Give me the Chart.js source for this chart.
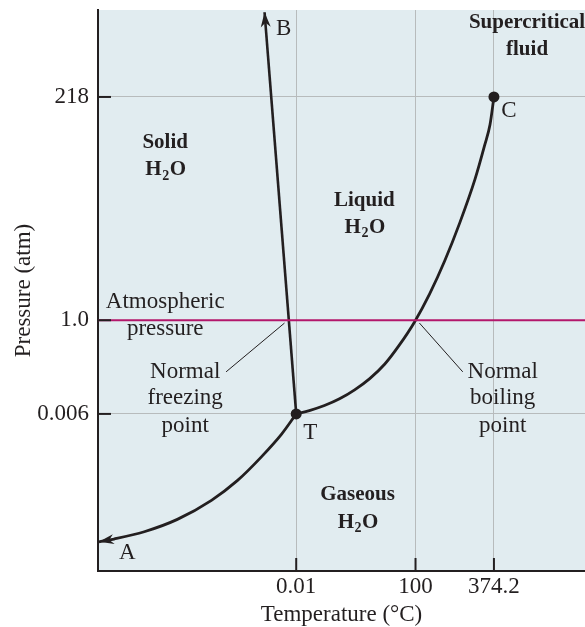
<!DOCTYPE html>
<html>
<head>
<meta charset="utf-8">
<script src="https://cdn.jsdelivr.net/npm/chart.js@4"></script>
<style>
  html, body { margin: 0; padding: 0; background: #fff; overflow: hidden; }
  canvas { display: block; }
</style>
</head>
<body>
<canvas id="phaseChart" width="585" height="627"></canvas>
<script>
// schematic axes (0..100 each way), ticks sit where the textbook diagram puts them
const tempLabels = ['0.01', '100', '374.2'];
const tempAt = [40.7, 65.2, 81.3];
const presLabels = ['0.006', '1.0', '218'];
const presAt = [28.0, 44.7, 84.5];
const atmPressure = 44.7;

const triplePoint = {x: 40.7, y: 28.0};
const criticalPoint = {x: 81.3, y: 84.5};

// phase boundaries
const fusionX = [40.7, 34.2];
const fusionY = [28.0, 99.6];
const vaporX = [40.7, 43.4, 46.5, 49.6, 52.7, 55.8, 58.9, 61.9, 65.0, 68.1, 71.2, 74.3, 77.4, 79.4, 80.5, 81.3];
const vaporY = [28.0, 28.6, 29.5, 30.7, 32.3, 34.3, 36.9, 40.3, 44.4, 49.4, 55.3, 62.1, 69.8, 75.9, 79.6, 84.5];
const sublimX = [0.2, 3.3, 9.5, 16.3, 23.3, 28.6, 33.5, 37.7, 40.7];
const sublimY = [5.2, 5.7, 7.0, 9.2, 12.6, 16.1, 20.3, 24.4, 28.0];

const ink = '#231f20';
const magenta = '#b3176b';
const serif = '"Liberation Serif", "DejaVu Serif", serif';

const toPts = (xs, ys) => xs.map((x, i) => ({x: x, y: ys[i]}));

function drawH2O(ctx, cx, cy, size, weight) {
  const big = weight + ' ' + size + 'px ' + serif;
  const small = weight + ' ' + Math.round(size * 0.66) + 'px ' + serif;
  ctx.font = big;
  const wH = ctx.measureText('H').width;
  const wO = ctx.measureText('O').width;
  ctx.font = small;
  const w2 = ctx.measureText('2').width;
  let x = cx - (wH + w2 + wO) / 2;
  ctx.textAlign = 'left';
  ctx.textBaseline = 'middle';
  ctx.font = big; ctx.fillText('H', x, cy); x += wH;
  ctx.font = small; ctx.fillText('2', x + 0.5, cy + size * 0.3); x += w2 + 1;
  ctx.font = big; ctx.fillText('O', x, cy);
}

function arrowHead(ctx, tip, from, len, half) {
  const a = Math.atan2(tip.y - from.y, tip.x - from.x);
  ctx.save();
  ctx.translate(tip.x, tip.y);
  ctx.rotate(a);
  ctx.beginPath();
  ctx.moveTo(0, 0);
  ctx.lineTo(-len, -half);
  ctx.lineTo(-len * 0.7, 0);
  ctx.lineTo(-len, half);
  ctx.closePath();
  ctx.fillStyle = ink;
  ctx.fill();
  ctx.restore();
}

const notes = [
  {t: 'Solid', u: 13.8, v: 76.3, bold: true},
  {t: 'H2O', u: 13.8, v: 71.5, bold: true},
  {t: 'Liquid', u: 54.7, v: 66.1, bold: true},
  {t: 'H2O', u: 54.7, v: 61.3, bold: true},
  {t: 'Gaseous', u: 53.3, v: 13.7, bold: true},
  {t: 'H2O', u: 53.3, v: 8.7, bold: true},
  {t: 'Supercritical', u: 88.1, v: 97.7, bold: true},
  {t: 'fluid', u: 88.1, v: 92.9, bold: true},
  {t: 'Atmospheric', u: 13.8, v: 47.9},
  {t: 'pressure', u: 13.8, v: 43.1},
  {t: 'Normal', u: 17.9, v: 35.5},
  {t: 'freezing', u: 17.9, v: 30.8},
  {t: 'point', u: 17.9, v: 25.8},
  {t: 'Normal', u: 83.1, v: 35.5},
  {t: 'boiling', u: 83.1, v: 30.8},
  {t: 'point', u: 83.1, v: 25.8},
  {t: 'A', u: 6.0, v: 3.2},
  {t: 'B', u: 38.1, v: 96.6},
  {t: 'C', u: 84.4, v: 82.0},
  {t: 'T', u: 43.6, v: 24.6}
];

const leaders = [
  [38.3, 44.2, 26.3, 35.5],
  [66.0, 44.2, 74.9, 35.5]
];

const noPad = (scale) => {
  scale.paddingTop = 0;
  scale.paddingBottom = 0;
  scale.paddingLeft = 0;
  scale.paddingRight = 0;
};

const phasePlugin = {
  id: 'phase',
  beforeDraw(chart) {
    const {ctx, chartArea: a} = chart;
    ctx.save();
    ctx.fillStyle = '#e1ecf0';
    ctx.fillRect(a.left, a.top, a.right - a.left, a.bottom - a.top);
    ctx.restore();
  },
  afterDatasetsDraw(chart) {
    const {ctx, chartArea: a, scales: {x, y}} = chart;
    ctx.save();
    // inward tick marks
    ctx.strokeStyle = ink;
    ctx.lineWidth = 2;
    presAt.forEach(v => {
      const py = y.getPixelForValue(v);
      ctx.beginPath(); ctx.moveTo(a.left, py); ctx.lineTo(a.left + 13, py); ctx.stroke();
    });
    tempAt.forEach(u => {
      const px = x.getPixelForValue(u);
      ctx.beginPath(); ctx.moveTo(px, a.bottom); ctx.lineTo(px, a.bottom - 13); ctx.stroke();
    });
    // arrows at A and B
    const fus = chart.getDatasetMeta(1).data;
    arrowHead(ctx, fus[1], fus[0], 15, 5);
    const sub = chart.getDatasetMeta(3).data;
    arrowHead(ctx, sub[0], sub[1], 15, 5);
    // leader lines
    ctx.lineWidth = 1;
    leaders.forEach(l => {
      ctx.beginPath();
      ctx.moveTo(x.getPixelForValue(l[0]), y.getPixelForValue(l[1]));
      ctx.lineTo(x.getPixelForValue(l[2]), y.getPixelForValue(l[3]));
      ctx.stroke();
    });
    // labels
    ctx.fillStyle = ink;
    ctx.textAlign = 'center';
    ctx.textBaseline = 'middle';
    notes.forEach(n => {
      const px = x.getPixelForValue(n.u), py = y.getPixelForValue(n.v);
      const weight = n.bold ? 'bold' : 'normal';
      const size = n.bold ? 21 : 23;
      if (n.t === 'H2O') {
        drawH2O(ctx, px, py, size, weight);
        ctx.textAlign = 'center';
      } else {
        ctx.font = weight + ' ' + size + 'px ' + serif;
        ctx.fillText(n.t, px, py);
      }
    });
    ctx.restore();
  }
};

const ctxPhase = document.getElementById('phaseChart').getContext('2d');
const phaseChart = new Chart(ctxPhase, {
  type: 'scatter',
  data: {
    datasets: [
      {
        label: 'Atmospheric pressure',
        data: [{x: 0, y: atmPressure}, {x: 100, y: atmPressure}],
        showLine: true,
        borderColor: magenta,
        borderWidth: 2,
        pointRadius: 0
      },
      {
        label: 'Melting',
        data: toPts(fusionX, fusionY),
        showLine: true,
        borderColor: ink,
        borderWidth: 2.6,
        pointRadius: 0
      },
      {
        label: 'Boiling',
        data: toPts(vaporX, vaporY),
        showLine: true,
        cubicInterpolationMode: 'monotone',
        borderColor: ink,
        borderWidth: 2.8,
        pointRadius: 0
      },
      {
        label: 'Sublimation',
        data: toPts(sublimX, sublimY),
        showLine: true,
        cubicInterpolationMode: 'monotone',
        borderColor: ink,
        borderWidth: 2.8,
        pointRadius: 0
      },
      {
        label: 'T and C',
        data: [triplePoint, criticalPoint],
        backgroundColor: ink,
        borderColor: ink,
        borderWidth: 0,
        pointRadius: 5.5
      }
    ]
  },
  options: {
    responsive: false,
    animation: false,
    layout: {autoPadding: false, padding: {top: 10, right: 0, left: 0, bottom: 0}},
    plugins: {
      legend: {display: false},
      tooltip: {enabled: false}
    },
    scales: {
      x: {
        type: 'linear',
        min: 0,
        max: 100,
        afterBuildTicks: (scale) => { scale.ticks = tempAt.map(v => ({value: v})); },
        afterFit: (scale) => { scale.height = 56; noPad(scale); },
        ticks: {
          autoSkip: false,
          maxRotation: 0,
          padding: 2,
          color: ink,
          font: {family: serif, size: 23},
          callback: (value, index) => tempLabels[index]
        },
        grid: {color: '#b7bbbc', lineWidth: 1, drawTicks: false},
        border: {display: true, color: ink, width: 2},
        title: {
          display: true,
          text: 'Temperature (°C)',
          color: ink,
          font: {family: serif, size: 23},
          padding: {top: 0, bottom: -2}
        }
      },
      y: {
        type: 'linear',
        min: 0,
        max: 100,
        afterBuildTicks: (scale) => { scale.ticks = presAt.map(v => ({value: v})); },
        afterFit: (scale) => { scale.width = 98; noPad(scale); },
        ticks: {
          autoSkip: false,
          padding: 9,
          color: ink,
          font: {family: serif, size: 23},
          callback: (value, index) => presLabels[index]
        },
        grid: {color: '#b7bbbc', lineWidth: 1, drawTicks: false},
        border: {display: true, color: ink, width: 2},
        title: {
          display: true,
          text: 'Pressure (atm)',
          color: ink,
          font: {family: serif, size: 23},
          padding: {top: 10, bottom: 0}
        }
      }
    }
  },
  plugins: [phasePlugin]
});
</script>
</body>
</html>
